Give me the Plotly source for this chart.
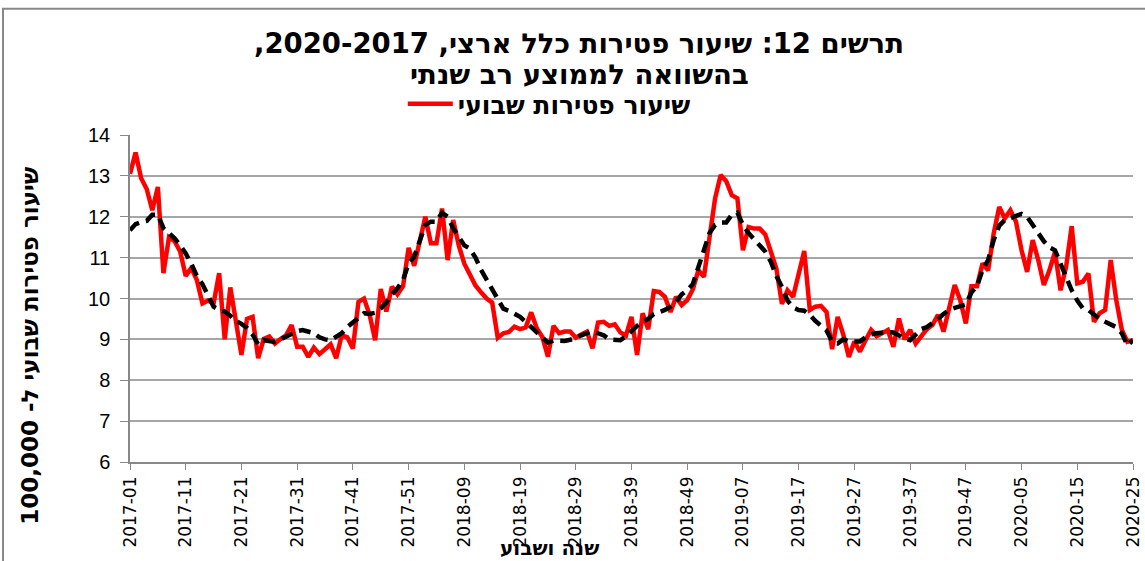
import plotly.graph_objects as go

# week labels "YYYY-WW" (2017-2019: 52 weeks each, 2020: weeks 1-25)
weeks = []
for yr, n in [(2017, 52), (2018, 52), (2019, 52), (2020, 25)]:
    for w in range(1, n + 1):
        weeks.append(f"{yr}-{w:02d}")

tick_labels = weeks[::10]

weekly_rate = [
    13.05, 13.57, 12.94, 12.68, 12.16, 12.73, 10.62, 11.5, 11.4, 11.15,
    10.55, 10.75, 10.45, 9.88, 9.95, 9.88, 10.62, 9.0, 10.27, 9.39,
    8.62, 9.5, 9.55, 8.54, 9.01, 9.07, 8.9, 9.01, 9.1, 9.35,
    8.82, 8.82, 8.57, 8.8, 8.64, 8.76, 8.88, 8.54, 9.1, 9.05,
    8.78, 9.92, 10.0, 9.6, 8.98, 10.23, 9.68, 10.29, 10.1, 10.3,
    11.24, 10.8, 11.45, 12.0, 11.35, 11.35, 12.2, 10.94, 11.92, 11.3,
    10.85, 10.6, 10.32, 10.15, 10.0, 9.9, 9.04, 9.15, 9.18, 9.31,
    9.25, 9.29, 9.66, 9.27, 9.06, 8.58, 9.33, 9.15, 9.19, 9.19,
    9.04, 9.12, 9.19, 8.78, 9.41, 9.43, 9.33, 9.37, 9.17, 9.09,
    9.55, 8.62, 9.64, 9.25, 10.18, 10.16, 10.04, 9.67, 10.04, 9.84,
    9.96, 10.22, 10.69, 10.53, 11.43, 12.45, 13.02, 12.87, 12.53, 12.45,
    11.18, 11.75, 11.71, 11.71, 11.57, 11.18, 10.73, 9.87, 10.2, 10.04,
    10.6, 11.16, 9.72, 9.8, 9.82, 9.67, 8.76, 9.55, 9.12, 8.57,
    8.95, 8.7, 8.98, 9.23, 9.08, 9.14, 9.23, 8.82, 9.51, 9.0,
    9.23, 8.9, 9.06, 9.25, 9.35, 9.6, 9.19, 9.8, 10.33, 9.96,
    9.39, 10.3, 10.3, 10.86, 10.69, 11.59, 12.24, 11.96, 12.16, 11.88,
    11.18, 10.65, 11.43, 10.94, 10.33, 10.69, 11.14, 10.2, 10.78, 11.77,
    10.37, 10.41, 10.61, 9.43, 9.64, 9.72, 10.94, 9.96, 9.23, 8.94,
    8.98,
]

multiyear_avg = [
    11.67, 11.82, 11.87, 11.9, 12.05, 12.05, 11.72, 11.6, 11.47, 11.3,
    11.1, 10.85, 10.55, 10.35, 10.1, 9.8, 9.72, 9.68, 9.58, 9.45,
    9.38, 9.28, 9.12, 8.88, 8.98, 8.97, 8.94, 9.0, 9.06, 9.12,
    9.2, 9.23, 9.2, 9.15, 9.05, 9.0, 8.98, 9.05, 9.15, 9.3,
    9.42, 9.55, 9.64, 9.62, 9.65, 9.76, 9.9, 10.1, 10.25, 10.45,
    10.86, 11.02, 11.45, 11.8, 11.88, 11.88, 12.1, 12.0, 11.72, 11.5,
    11.3, 11.22, 11.0, 10.7, 10.45, 10.2, 9.95, 9.75, 9.7, 9.62,
    9.55, 9.43, 9.31, 9.18, 9.05, 8.92, 8.97, 8.97, 8.96, 8.99,
    9.03, 9.1, 9.16, 9.2, 9.15, 9.1, 9.0, 8.98, 8.98, 9.07,
    9.22, 9.33, 9.43, 9.5, 9.62, 9.66, 9.72, 9.8, 9.92, 10.1,
    10.2, 10.35, 10.75, 11.2, 11.6, 11.8, 11.86, 11.86, 12.05, 12.1,
    11.8, 11.6, 11.45, 11.3, 11.15, 10.9, 10.55, 10.28, 9.95, 9.78,
    9.72, 9.7, 9.6, 9.45, 9.35, 9.22, 8.95, 8.9, 9.0, 8.95,
    8.95, 8.95, 9.05, 9.12, 9.15, 9.17, 9.18, 9.17, 9.08, 9.02,
    8.98, 9.12, 9.25, 9.3, 9.39, 9.5, 9.62, 9.72, 9.77, 9.8,
    9.85, 10.15, 10.3, 10.7, 10.94, 11.43, 11.78, 11.92, 11.98, 12.03,
    12.07, 12.0, 11.8, 11.6, 11.4, 11.25, 11.18, 10.85, 10.5, 10.2,
    9.95, 9.76, 9.72, 9.6, 9.5, 9.43, 9.37, 9.3, 9.15, 8.85,
    8.98,
]

RLE, PDF = "\u202B", "\u202C"
def rtl(s):
    return RLE + s + PDF

FONT = "Liberation Sans, Arial, sans-serif"
HEB = "DejaVu Sans, sans-serif"

fig = go.Figure()

# weekly rate (red) first, dashed average drawn on top
fig.add_trace(go.Scatter(
    x=weeks, y=weekly_rate, mode="lines",
    name=rtl("שיעור פטירות שבועי"),
    line=dict(color="#ff0000", width=4.5),
))
fig.add_trace(go.Scatter(
    x=weeks, y=multiyear_avg, mode="lines", showlegend=False,
    line=dict(color="black", width=4.5, dash="12px,7px"),
))

fig.update_layout(
    width=1145, height=561,
    margin=dict(l=130, r=12, t=135, b=99, autoexpand=False),
    paper_bgcolor="white", plot_bgcolor="white",
    font=dict(family=FONT, color="black"),
    legend=dict(
        orientation="h", x=0.272, y=(462 - 104) / 327, xanchor="left", yanchor="middle",
        font=dict(size=25, family=HEB, weight="bold"), bgcolor="rgba(0,0,0,0)",
        itemwidth=45,
    ),
    xaxis=dict(
        type="category", range=[0, 180],
        tickmode="array", tickvals=tick_labels, ticktext=tick_labels,
        tickangle=-90, tickfont=dict(size=17, family="DejaVu Sans"),
        ticks="outside", ticklen=6, tickcolor="#888",
        showline=True, linecolor="#888", linewidth=1.5,
        showgrid=False, zeroline=False,
    ),
    yaxis=dict(
        range=[6, 14], dtick=1,
        tickfont=dict(size=20, family=FONT),
        ticks="outside", ticklen=8, tickcolor="#888",
        ticklabelstandoff=6,
        showline=True, linecolor="#888", linewidth=1.5,
        showgrid=True, gridcolor="#a6a6a6", gridwidth=1.5,
        zeroline=False,
    ),
    shapes=[dict(
        type="rect", xref="paper", yref="paper",
        x0=-0.1266, x1=1.02, y0=-0.35, y1=1.386,
        line=dict(color="#888", width=2), fillcolor="rgba(0,0,0,0)",
        layer="above",
    )],
    annotations=[
        dict(
            text=rtl("תרשים 12: שיעור פטירות כלל ארצי, 2020-2017,"),
            xref="paper", yref="paper", x=0.448, y=(462 - 43) / 327,
            xanchor="center", yanchor="middle", showarrow=False,
            font=dict(size=27.5, family=HEB, weight="bold"),
        ),
        dict(
            text=rtl("בהשוואה לממוצע רב שנתי"),
            xref="paper", yref="paper", x=0.448, y=(462 - 74) / 327,
            xanchor="center", yanchor="middle", showarrow=False,
            font=dict(size=27.5, family=HEB, weight="bold"),
        ),
        dict(
            text=rtl("שיעור פטירות שבועי ל- 100,000"),
            xref="paper", yref="paper", x=-0.1, y=(462 - 345) / 327,
            xanchor="center", yanchor="middle", textangle=-90,
            showarrow=False, font=dict(size=23, family=HEB, weight="bold"),
        ),
        dict(
            text=rtl("שנה ושבוע"),
            xref="paper", yref="paper", x=0.418, y=(462 - 548) / 327,
            xanchor="center", yanchor="middle",
            showarrow=False, font=dict(size=20, family=HEB, weight="bold"),
        ),
    ],
)

# the page body has a default 8px margin; remove it so the figure sits at 0,0
fig.write_html("out.html", config={"displayModeBar": False},
               post_script="document.body.style.margin='0';")
